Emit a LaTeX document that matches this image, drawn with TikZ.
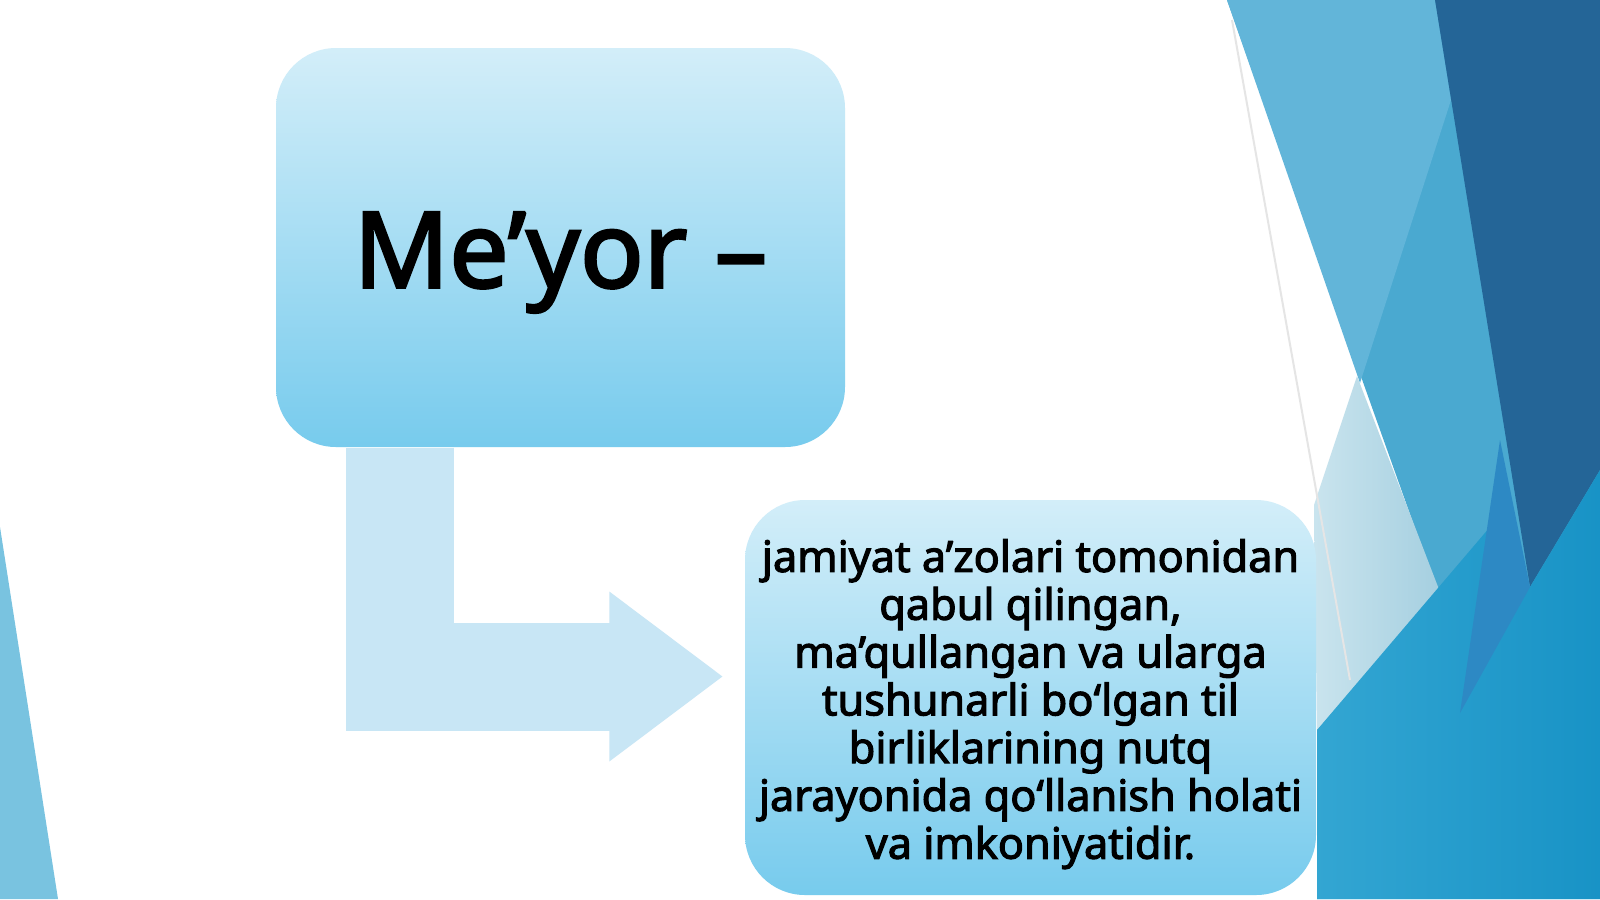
\documentclass[tikz,border=0pt]{standalone}
\usepackage{fontspec}
\setmainfont{Noto Sans}[BoldFont={Noto Sans}, BoldFeatures={FakeBold=2.5}]
\usetikzlibrary{arrows.meta,shapes}
\definecolor{dLCol}{rgb}{0.384, 0.710, 0.851}
\definecolor{dMCol}{rgb}{0.290, 0.663, 0.816}
\definecolor{dDCol}{rgb}{0.141, 0.396, 0.592}
\definecolor{dSCol}{rgb}{0.176, 0.537, 0.769}
\definecolor{dBCol}{rgb}{0.200, 0.650, 0.825}
\definecolor{dB2Col}{rgb}{0.094, 0.576, 0.776}
\definecolor{dPCol}{rgb}{0.790, 0.894, 0.933}
\definecolor{dP2Col}{rgb}{0.647, 0.812, 0.878}
\definecolor{dTCol}{rgb}{0.475, 0.765, 0.878}
\definecolor{dACol}{rgb}{0.784, 0.902, 0.961}
\definecolor{dKTopCol}{rgb}{0.827, 0.933, 0.976}
\definecolor{dKBotCol}{rgb}{0.467, 0.796, 0.929}

\begin{document}
\begin{tikzpicture}[x=0.1mm, y=-0.1mm,
    kutu/.style={rounded corners=6mm, inner sep=0, top color=dKTopCol,
      bottom color=dKBotCol, text=black, font=\bfseries},
    yol/.style={line width=10.8mm, dACol, -{Triangle[length=11.4mm, width=16.2mm]}}]
%      \draw [help lines] (0, 0) grid (1600, 899);
      \useasboundingbox (0,0) rectangle (1600,899);
      \fill [white] (0,0) rectangle (1600,899);
      %% right side facets
      \fill [dMCol] (1227,0) -- (1600,0) -- (1600,899) -- (1317,899) -- (1317,730) -- (1437,590) -- cycle;
      \fill [dLCol] (1227,0) -- (1435,0) -- (1451,100) -- (1360,383) -- cycle;
      \fill [dDCol] (1435,0) -- (1600,0) -- (1600,470) -- (1530,587) -- cycle;
      \shade [left color=dPCol, right color=dP2Col]
        (1357,376) -- (1440,592) -- (1317,730) -- (1314,505) -- cycle;
      \shade [left color=dBCol, right color=dB2Col]
        (1317,730) -- (1490,527) -- (1530,587) -- (1600,470) -- (1600,899) -- (1317,899) -- cycle;
      \fill [dSCol] (1500,440) -- (1530,587) -- (1460,713) -- cycle;
      \draw [-, line width=0.2mm, black!10] (1232,20) -- (1350,680);
      %% left corner
      \fill [dTCol] (0,527) -- (58,899) -- (0,899) -- cycle;

      \node [kutu, minimum width=56.9mm, minimum height=39.9mm, text height=8.0mm, text depth=0pt,
        font=\fontsize{30}{36}\selectfont\bfseries] (meyor) at (560.5,247.5) {Me’yor –};
      \node [kutu, minimum width=57.1mm, minimum height=39.5mm, align=center,
        font=\fontsize{12.3}{13.6}\selectfont\bfseries] (tarif) at (1030.5,697.5)
        {\rule{0pt}{4.6mm}jamiyat a’zolari tomonidan\\ qabul qilingan,\\ ma’qullangan va ularga\\
         tushunarli bo‘lgan til\\ birliklarining nutq\\ jarayonida qo‘llanish holati\\
         va imkoniyatidir.};
      \draw [yol] ([xshift=-16.1mm]meyor.south) |- ([xshift=-2.1mm, yshift=2.1mm]tarif.west);
    \end{tikzpicture}
\end{document}
